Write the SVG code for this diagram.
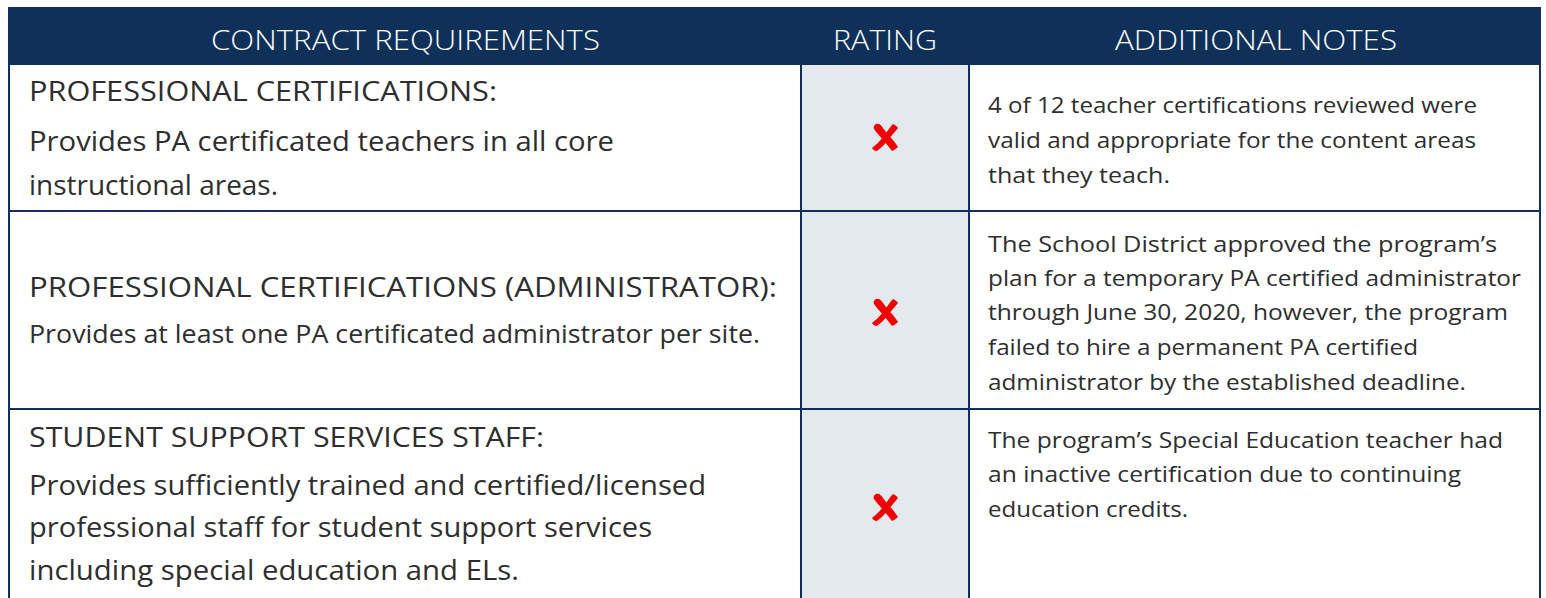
<svg xmlns="http://www.w3.org/2000/svg" width="1546" height="598" viewBox="0 0 1546 598">
<defs>
<style>
.hdr{font-family:"Open Sans","Noto Sans",sans-serif;font-weight:300;font-size:28px;fill:#ffffff;}
.t{font-family:"Open Sans","Noto Sans",sans-serif;font-weight:400;fill:#2e2e2e;}
.ttl{font-size:28px;}
.bd{font-size:28px;}
.bd2{font-size:25px;}
.nt{font-size:22px;}
.ln{stroke:#0e3059;stroke-width:2;fill:none;}
</style>
<g id="xmark">
<path d="M-9,-13 C-6,-14 -4,-12 -2,-9 C1,-5 5,0 8,3 C10,6 12,8 13,10 C11,12 9,13 7,14 C4,10 1,6 -2,3 C-5,-1 -9,-5 -11,-8 C-12,-10 -11,-12 -9,-13 Z" fill="#f00000"/>
<path d="M8,-13 C10,-12 12,-11 13,-9 C10,-5 6,-1 3,3 C0,7 -4,11 -8,14 C-10,14 -12,13 -13,11 C-9,8 -5,4 -2,0 C2,-5 5,-10 8,-13 Z" fill="#f00000"/>
</g>
</defs>
<rect x="0" y="0" width="1546" height="598" fill="#ffffff"/>
<g id="header">
<rect x="8" y="7" width="1533" height="58" fill="#0e3059"/>
<text class="hdr" x="211" y="50" textLength="389" lengthAdjust="spacingAndGlyphs">CONTRACT REQUIREMENTS</text>
<text class="hdr" x="833" y="50" textLength="104" lengthAdjust="spacingAndGlyphs">RATING</text>
<text class="hdr" x="1115" y="50" textLength="282" lengthAdjust="spacingAndGlyphs">ADDITIONAL NOTES</text>
</g>
<g id="rating-column">
<rect x="801" y="65" width="168" height="533" fill="#e4e9ee"/>
</g>
<g id="connectors">
<line class="ln" x1="9" y1="65" x2="9" y2="598"/>
<line class="ln" x1="1540" y1="65" x2="1540" y2="598"/>
<line class="ln" x1="801" y1="65" x2="801" y2="598"/>
<line class="ln" x1="969" y1="65" x2="969" y2="598"/>
<line class="ln" x1="9" y1="211" x2="1540" y2="211"/>
<line class="ln" x1="9" y1="409" x2="1540" y2="409"/>
</g>
<g id="row1">
<text class="t ttl" x="29" y="101" textLength="468" lengthAdjust="spacingAndGlyphs">PROFESSIONAL CERTIFICATIONS:</text>
<text class="t bd" x="29" y="151" textLength="585" lengthAdjust="spacingAndGlyphs">Provides PA certificated teachers in all core</text>
<text class="t bd" x="29" y="195" textLength="249" lengthAdjust="spacingAndGlyphs">instructional areas.</text>
<use href="#xmark" x="885" y="137"/>
<text class="t nt" x="988" y="113" textLength="489" lengthAdjust="spacingAndGlyphs">4 of 12 teacher certifications reviewed were</text>
<text class="t nt" x="988" y="148" textLength="488" lengthAdjust="spacingAndGlyphs">valid and appropriate for the content areas</text>
<text class="t nt" x="988" y="183" textLength="182" lengthAdjust="spacingAndGlyphs">that they teach.</text>
</g>
<g id="row2">
<text class="t ttl" x="29" y="297" textLength="748" lengthAdjust="spacingAndGlyphs">PROFESSIONAL CERTIFICATIONS (ADMINISTRATOR):</text>
<text class="t bd2" x="29" y="343" textLength="731" lengthAdjust="spacingAndGlyphs">Provides at least one PA certificated administrator per site.</text>
<use href="#xmark" x="885" y="312"/>
<text class="t nt" x="988" y="252" textLength="509" lengthAdjust="spacingAndGlyphs">The School District approved the program’s</text>
<text class="t nt" x="988" y="286" textLength="533" lengthAdjust="spacingAndGlyphs">plan for a temporary PA certified administrator</text>
<text class="t nt" x="988" y="320" textLength="520" lengthAdjust="spacingAndGlyphs">through June 30, 2020, however, the program</text>
<text class="t nt" x="988" y="355" textLength="430" lengthAdjust="spacingAndGlyphs">failed to hire a permanent PA certified</text>
<text class="t nt" x="988" y="390" textLength="478" lengthAdjust="spacingAndGlyphs">administrator by the established deadline.</text>
</g>
<g id="row3">
<text class="t ttl" x="29" y="447" textLength="515" lengthAdjust="spacingAndGlyphs">STUDENT SUPPORT SERVICES STAFF:</text>
<text class="t bd" x="29" y="495" textLength="677" lengthAdjust="spacingAndGlyphs">Provides sufficiently trained and certified/licensed</text>
<text class="t bd" x="29" y="537" textLength="623" lengthAdjust="spacingAndGlyphs">professional staff for student support services</text>
<text class="t bd" x="29" y="580" textLength="490" lengthAdjust="spacingAndGlyphs">including special education and ELs.</text>
<use href="#xmark" x="885" y="507"/>
<text class="t nt" x="988" y="448" textLength="515" lengthAdjust="spacingAndGlyphs">The program’s Special Education teacher had</text>
<text class="t nt" x="988" y="482" textLength="473" lengthAdjust="spacingAndGlyphs">an inactive certification due to continuing</text>
<text class="t nt" x="988" y="517" textLength="200" lengthAdjust="spacingAndGlyphs">education credits.</text>
</g>
</svg>
